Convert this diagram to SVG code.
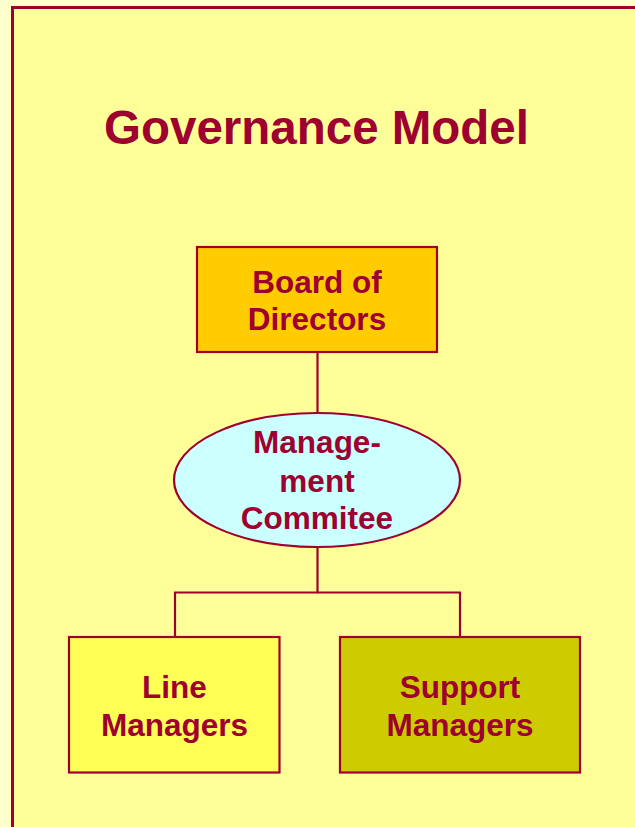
<svg xmlns="http://www.w3.org/2000/svg" width="635" height="827" viewBox="0 0 635 827">
<style>
.t{font-family:"Liberation Sans",Arial,sans-serif;font-weight:bold;fill:#9E0030;text-anchor:middle}
.n{stroke:#9E0030;stroke-width:2.2}
.c{fill:none;stroke:#9E0030;stroke-width:2.2}
.b{font-size:31.5px}
</style>
<rect x="0" y="0" width="635" height="827" fill="#FFFFCC"/>
<rect x="12.5" y="7.5" width="640" height="840" fill="#FFFF99" stroke="#9E0030" stroke-width="3"/>
<text class="t" x="316.5" y="144" font-size="47.5">Governance Model</text>
<g id="connectors">
<line class="c" x1="317.5" y1="352" x2="317.5" y2="413"/>
<polyline class="c" points="317.5,547 317.5,592.5 175,592.5 175,637"/>
<polyline class="c" points="317.5,592.5 460,592.5 460,637"/>
</g>
<g id="board">
<rect class="n" x="197" y="247" width="240" height="105" fill="#FFCC00"/>
<text class="t b" x="317" y="293">Board of</text>
<text class="t b" x="317" y="330">Directors</text>
</g>
<g id="committee">
<ellipse class="n" cx="317" cy="480" rx="143" ry="67" fill="#CCFFFF"/>
<text class="t b" x="317" y="453">Manage-</text>
<text class="t b" x="317" y="491.5">ment</text>
<text class="t b" x="317" y="529">Commitee</text>
</g>
<g id="line-managers">
<rect class="n" x="69" y="637" width="210.5" height="135.5" fill="#FFFF55"/>
<text class="t b" x="174.5" y="698">Line</text>
<text class="t b" x="174.5" y="736">Managers</text>
</g>
<g id="support-managers">
<rect class="n" x="340" y="637" width="240" height="135.5" fill="#CCCC00"/>
<text class="t b" x="460" y="698">Support</text>
<text class="t b" x="460" y="736">Managers</text>
</g>
</svg>
